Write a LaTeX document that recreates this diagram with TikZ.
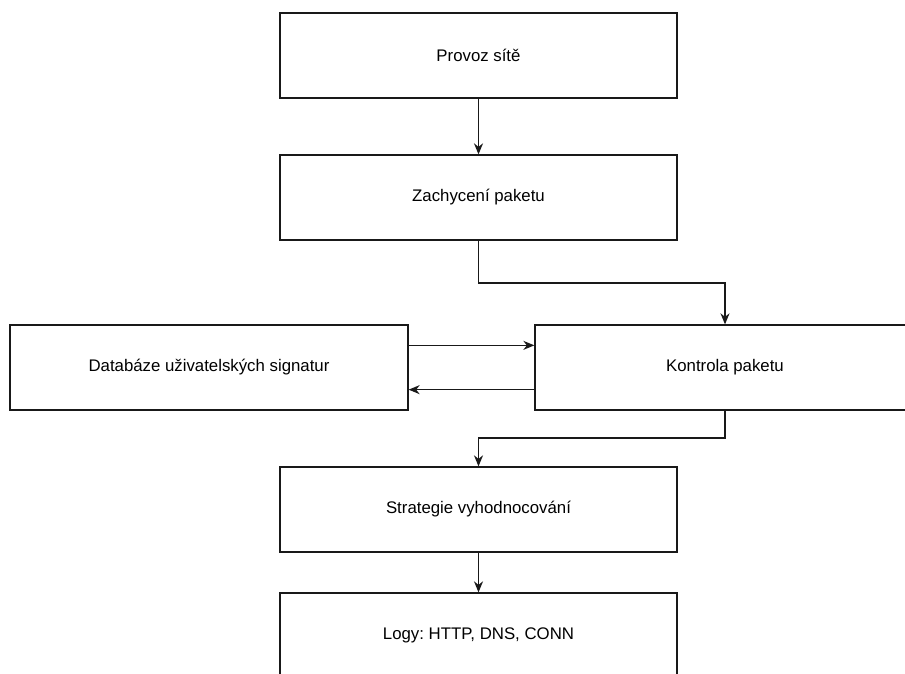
\documentclass[tikz,border=0pt]{standalone}
\usepackage{fontspec}
\setmainfont{Liberation Sans}
\usetikzlibrary{arrows.meta}
\frenchspacing
\begin{document}
\begin{tikzpicture}[x=1pt,y=-1pt,
  box/.style={draw=black!90,line width=1.3pt,fill=white,minimum width=397pt,minimum height=85pt,inner sep=0pt,
    font=\fontsize{16.8}{20}\selectfont},
  arr/.style={draw=black!90,line width=1.4pt,-{Stealth[length=11pt,width=9pt,inset=3.5pt]}}]
\useasboundingbox (0,0) rectangle (905,673);
\node[box] (b1) at (478.5,55.5) {Provoz sítě};
\node[box] (b2) at (478.5,197.5) {Zachycení paketu};
\node[box,minimum width=398pt] (b3) at (209,367.5) {Databáze uživatelských signatur};
\node[box,minimum width=380pt] (b4) at (725,367.5) {Kontrola paketu};
\node[box] (b5) at (478.5,509.5) {Strategie vyhodnocování};
\node[box] (b6) at (478.5,635.5) {Logy: HTTP, DNS, CONN};
\coordinate (j1) at (725,283);
\coordinate (j2) at (478.5,438);
\draw[arr] (b1) -- (b2);
\draw[arr] (b2.south) |- (j1) -- (b4.north);
\draw[arr] ([yshift=-21pt]b3.north east) -- ([yshift=-21pt]b4.north west);
\draw[arr] ([yshift=21pt]b4.south west) -- ([yshift=21pt]b3.south east);
\draw[arr] (b4.south) |- (j2) -- (b5.north);
\draw[arr] (b5) -- (b6);
\end{tikzpicture}
\end{document}
